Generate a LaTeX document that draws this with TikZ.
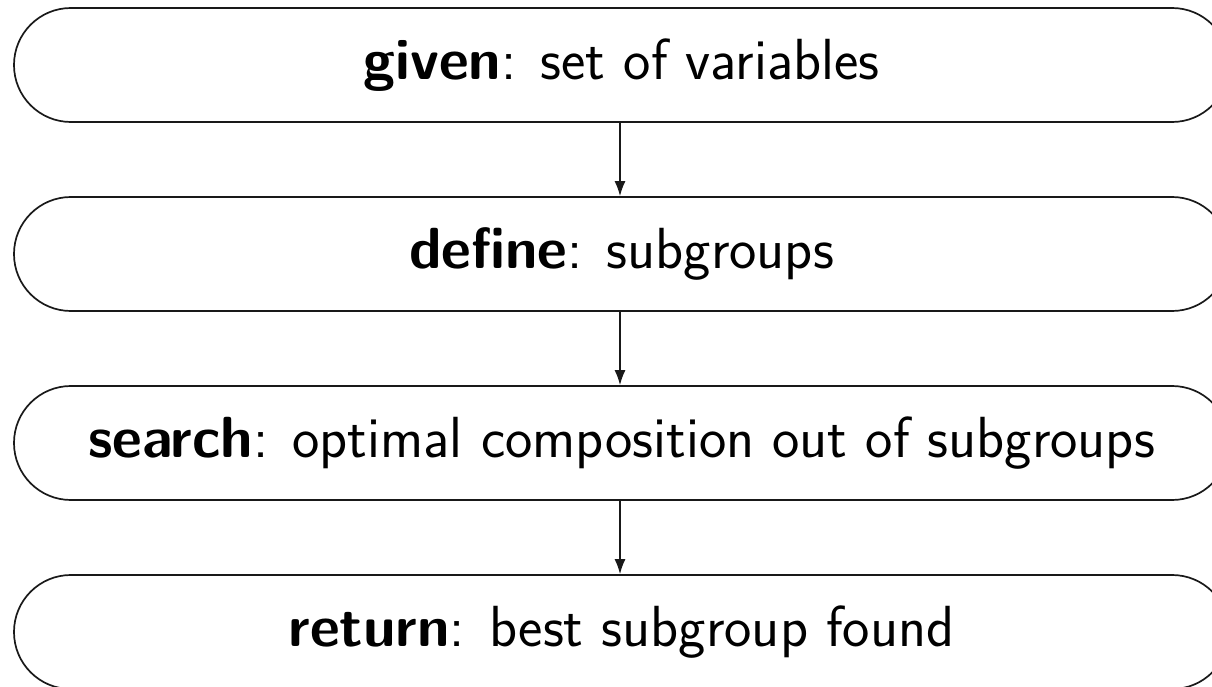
\documentclass[tikz,border=0pt]{standalone}
\usepackage{fontspec}
\usetikzlibrary{arrows.meta}
\begin{document}
\begin{tikzpicture}[x=1pt,y=1pt,
  stage/.style={draw=black!90, line width=1.7pt, rounded corners=56.9pt,
    minimum width=1215pt, minimum height=114pt, inner sep=0pt,
    font=\sffamily\fontsize{58}{64}\selectfont},
  flow/.style={draw=black!90, line width=1.5pt, -{Latex[length=15pt,width=11pt]}}]
\useasboundingbox (0,0) rectangle (1212,686);
\node[stage] (given)  at (621.5,621) {\textbf{given}: set of variables};
\node[stage] (define) at (621.5,432) {\textbf{define}: subgroups};
\node[stage] (search) at (621.5,243) {\textbf{search}: optimal composition out of subgroups};
\node[stage] (return) at (621.5,54)  {\textbf{return}: best subgroup found};
\draw[flow] ([xshift=-1.5pt]given.south) -- ([xshift=-1.5pt]define.north);
\draw[flow] ([xshift=-1.5pt]define.south) -- ([xshift=-1.5pt]search.north);
\draw[flow] ([xshift=-1.5pt]search.south) -- ([xshift=-1.5pt]return.north);
\end{tikzpicture}
\end{document}
